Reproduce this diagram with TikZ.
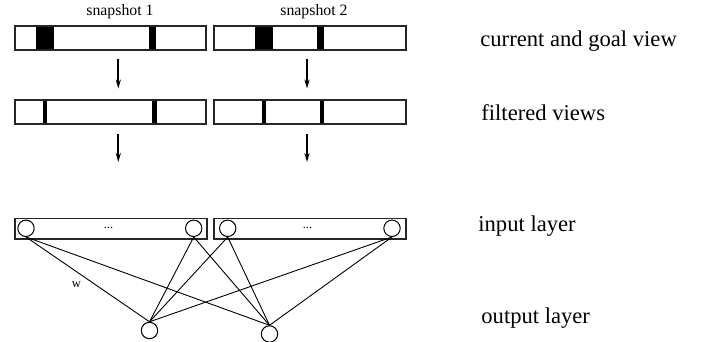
\documentclass[tikz,border=0pt]{standalone}
\usepackage{fontspec}
\setmainfont{Liberation Serif}
\usetikzlibrary{arrows.meta}
\begin{document}
\begin{tikzpicture}[x=0.5pt,y=-0.5pt,
  viewbox/.style={draw=black!85,line width=0.6pt,fill=white},
  blk/.style={fill=black},
  flowarrow/.style={line width=1pt,-{Stealth[length=4.5pt,width=2.6pt]}},
  neuron/.style={draw,circle,line width=0.5pt,minimum size=8.2pt,inner sep=0pt},
  conn/.style={line width=0.45pt},
  biglabel/.style={font=\fontsize{11.3}{13}\selectfont,anchor=base west,inner sep=0pt},
  smalllabel/.style={font=\fontsize{7.9}{9}\selectfont,inner sep=0pt},
  tinylabel/.style={font=\fontsize{6.3}{7}\selectfont,inner sep=0pt}]
\useasboundingbox (0,0) rectangle (701,342);
% labels on top
\node[smalllabel] (s1) at (120,12) {snapshot 1};
\node[smalllabel] (s2) at (314,12) {snapshot 2};
% row 1: current and goal view
\fill[blk] (36,26) rectangle (54,50);
\fill[blk] (149,26) rectangle (156,50);
\fill[blk] (255,26) rectangle (273,50);
\fill[blk] (317,26) rectangle (324,50);
\node[viewbox,minimum width=95.5pt,minimum height=12pt,inner sep=0pt,fill=none] (c1) at (110.5,38) {};
\node[viewbox,minimum width=96pt,minimum height=12pt,inner sep=0pt,fill=none] (c2) at (310,38) {};
% row 2: filtered views
\fill[blk] (43,100) rectangle (46.5,124);
\fill[blk] (152,100) rectangle (156.5,124);
\fill[blk] (262,100) rectangle (266,124);
\fill[blk] (320,100) rectangle (324,124);
\node[viewbox,minimum width=95.5pt,minimum height=12pt,inner sep=0pt,fill=none] (f1) at (110.5,112) {};
\node[viewbox,minimum width=96pt,minimum height=12pt,inner sep=0pt,fill=none] (f2) at (310,112) {};
% arrows
\coordinate (a1s) at (118.3,59.5);
\coordinate (a1e) at (118.3,88.5);
\coordinate (a2s) at (307,59.5);
\coordinate (a2e) at (307,88.5);
\coordinate (b1s) at (118.3,134);
\coordinate (b1e) at (118.3,162);
\coordinate (b2s) at (307,134);
\coordinate (b2e) at (307,162);
\draw[flowarrow] (a1s) -- (a1e);
\draw[flowarrow] (a2s) -- (a2e);
\draw[flowarrow] (b1s) -- (b1e);
\draw[flowarrow] (b2s) -- (b2e);
% input layer boxes
\node[viewbox,minimum width=96pt,minimum height=10.4pt,inner sep=0pt] (in1) at (111,228.6) {};
\node[viewbox,minimum width=96pt,minimum height=10.4pt,inner sep=0pt] (in2) at (310,228.6) {};
\node[neuron] (i1) at (26,228.3) {};
\node[neuron] (i2) at (193.7,228.3) {};
\node[neuron] (i3) at (227.7,228.3) {};
\node[neuron] (i4) at (392,228.3) {};
\node[tinylabel] (d1) at (108.5,228) {...};
\node[tinylabel] (d2) at (307.5,228) {...};
% output layer
\node[neuron] (o1) at (149.5,330.5) {};
\node[neuron] (o2) at (269.5,334) {};
\foreach \i in {i1,i2,i3,i4}{
  \draw[conn] (\i.south) -- (o1.north);
  \draw[conn] (\i.south) -- (o2.north);
}
\node[tinylabel] (w) at (76.5,285) {w};
% right labels
\node[biglabel] (l1) at (480,46.5) {current and goal view};
\node[biglabel] (l2) at (481,120.5) {filtered views};
\node[biglabel] (l3) at (478,231.5) {input layer};
\node[biglabel] (l4) at (481,323) {output layer};
\end{tikzpicture}
\end{document}
